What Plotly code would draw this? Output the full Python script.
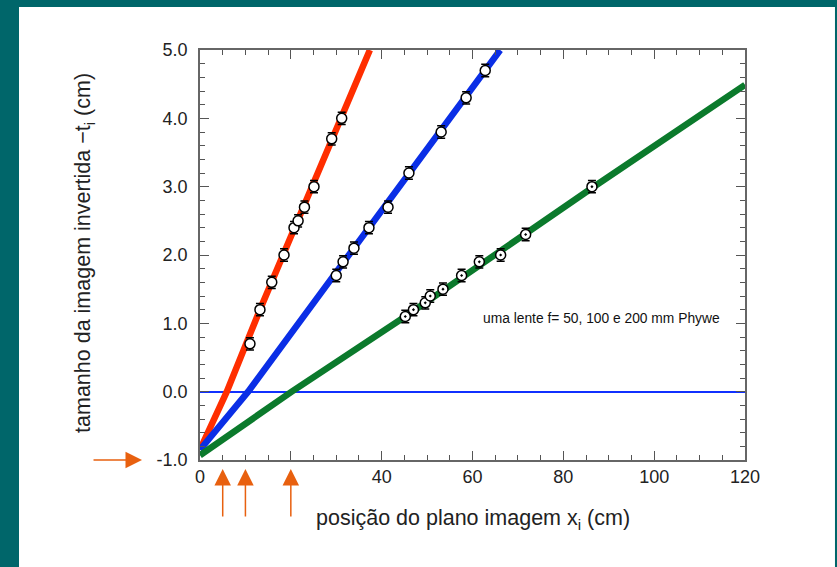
import plotly.graph_objects as go

# ---- data ----
red_x = [11.0, 13.2, 15.8, 18.5, 20.7, 21.6, 23.0, 25.1, 29.0, 31.2]
red_y = [0.7, 1.2, 1.6, 2.0, 2.4, 2.5, 2.7, 3.0, 3.7, 4.0]
blue_x = [30.0, 31.5, 33.9, 37.2, 41.4, 46.0, 53.1, 58.6, 62.8]
blue_y = [1.7, 1.9, 2.1, 2.4, 2.7, 3.2, 3.8, 4.3, 4.7]
green_x = [45.2, 47.0, 49.6, 50.7, 53.5, 57.6, 61.5, 66.2, 71.7, 86.3]
green_y = [1.1, 1.2, 1.3, 1.4, 1.5, 1.7, 1.9, 2.0, 2.3, 3.0]
point_err = 0.09

red_fit_x = [0, 5.9, 13.2, 25.1, 37.4]
red_fit_y = [-0.85, 0.0, 1.2, 3.05, 5.0]
blue_fit_x = [0, 10.6, 30.0, 66.1]
blue_fit_y = [-0.85, 0.0, 1.75, 5.0]
green_fit_x = [0, 20.2, 45.2, 86.3, 120]
green_fit_y = [-0.93, 0.0, 1.1, 2.98, 4.49]

focal_cm = [5, 10, 20]  # f = 50, 100, 200 mm

x_ticks = [0, 20, 40, 60, 80, 100, 120]
x_ticktext = ["0", "", "40", "60", "80", "100", "120"]
y_ticks = [-1, 0, 1, 2, 3, 4, 5]
y_ticktext = ["-1.0", "0.0", "1.0", "2.0", "3.0", "4.0", "5.0"]

RED = "#ff2e00"
BLUE = "#0a2ee6"
GREEN = "#0b7a2c"
ORANGE = "#e8600f"
TEAL = "#00666a"
FONT = "Liberation Sans, Arial, sans-serif"

fig = go.Figure()

for fx, fy, col in [(red_fit_x, red_fit_y, RED),
                    (blue_fit_x, blue_fit_y, BLUE),
                    (green_fit_x, green_fit_y, GREEN)]:
    fig.add_trace(go.Scatter(x=fx, y=fy, mode="lines",
                             line=dict(color=col, width=6.5),
                             hoverinfo="skip", showlegend=False))

for px, py, sym in [(red_x, red_y, "circle"),
                    (blue_x, blue_y, "circle"),
                    (green_x, green_y, "circle-dot")]:
    fig.add_trace(go.Scatter(
        x=px, y=py, mode="markers",
        error_y=dict(type="constant", value=point_err, color="black",
                     thickness=1.5, width=4),
        marker=dict(symbol=sym, size=10, color="white",
                    line=dict(color="black", width=1.5)),
        showlegend=False))

axis_common = dict(
    showgrid=False, showline=True, linecolor="#666666", linewidth=1.5,
    mirror="ticks", ticks="inside", tickcolor="#555555", tickwidth=1.2,
    ticklen=9, tickfont=dict(family=FONT, size=18, color="#222222"),
)

fig.update_xaxes(range=[0, 120], tickvals=x_ticks, ticktext=x_ticktext,
                 zeroline=False,
                 minor=dict(dtick=5, ticks="inside", ticklen=5,
                            tickcolor="#555555", tickwidth=1.2),
                 **axis_common)
fig.update_yaxes(range=[-1, 5], tickvals=y_ticks, ticktext=y_ticktext,
                 zeroline=True, zerolinecolor="#1030ff", zerolinewidth=1.5,
                 ticklabelstandoff=7,
                 minor=dict(dtick=0.2, ticks="inside", ticklen=5,
                            tickcolor="#555555", tickwidth=1.2),
                 **axis_common)

annotations = [
    dict(text="tamanho da imagem invertida \u2212t<sub>i</sub> (cm)",
         xref="paper", yref="paper", x=-0.211, y=0.505, textangle=-90,
         xanchor="center", yanchor="middle",
         showarrow=False, font=dict(family=FONT, size=21.5, color="#222222")),
    dict(text="posição do plano imagem x<sub>i</sub> (cm)",
         xref="paper", yref="paper", x=0.5, y=-0.146,
         xanchor="center", yanchor="middle",
         showarrow=False, font=dict(family=FONT, size=21.5, color="#222222")),
    dict(text="uma lente f= 50, 100 e 200 mm Phywe",
         xref="paper", yref="paper", x=0.736, y=0.346,
         xanchor="center", yanchor="middle",
         showarrow=False, font=dict(family=FONT, size=13.8, color="#111111")),
    dict(text="", xref="paper", yref="y", x=-0.1064, y=-1,
         ax=-50, ay=0, showarrow=True, arrowhead=2, arrowsize=2.2,
         arrowwidth=1.5, arrowcolor=ORANGE),
]
for f in focal_cm:
    annotations.append(dict(text="", xref="x", yref="paper", x=f, y=-0.022,
                            ax=0, ay=49, showarrow=True, arrowhead=2,
                            arrowsize=2.2, arrowwidth=1.5, arrowcolor=ORANGE))

fig.update_layout(
    width=837, height=567,
    margin=dict(l=200, r=92, t=50, b=107),
    paper_bgcolor=TEAL, plot_bgcolor="white",
    annotations=annotations,
    shapes=[dict(type="rect", xref="paper", yref="paper", layer="below",
                 x0=-0.3321, x1=1.1651, y0=-0.35, y1=1.105,
                 fillcolor="white", line=dict(width=0))],
    font=dict(family=FONT),
)

fig.write_html("out.html")
